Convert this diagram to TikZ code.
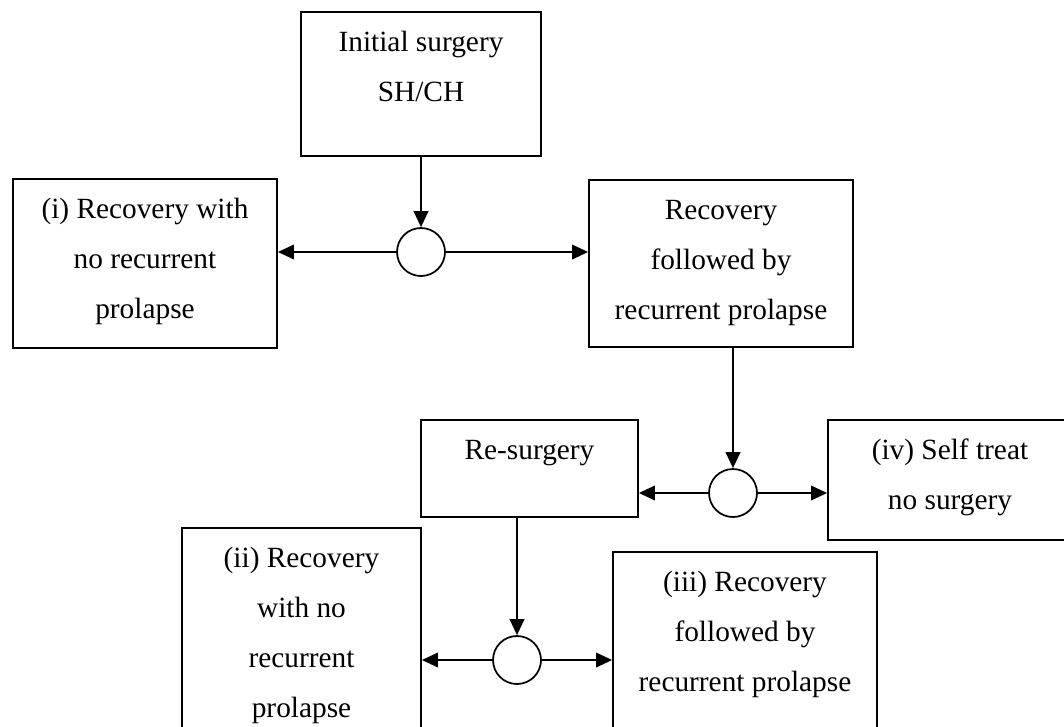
\documentclass[tikz,border=0pt]{standalone}
\usepackage{fontspec}
\setmainfont{Liberation Serif}
\usetikzlibrary{arrows.meta}
\newcommand{\boxtext}[3]{\parbox[c][\dimexpr #2pt*3/4-6pt\relax][t]{\dimexpr #1pt*3/4-6pt\relax}{\centering\strut #3}}
\tikzset{
  stepbox/.style={draw,line width=1.4pt,inner sep=3pt},
  chance/.style={draw,circle,line width=1.3pt,inner sep=0pt,minimum size=36pt},
  flow/.style={line width=1.2pt,-{Triangle[length=12pt,width=11pt]}}
}
\begin{document}
\begin{tikzpicture}[x=0.75pt,y=-0.75pt,font=\fontsize{22}{37.5}\selectfont]
\useasboundingbox (0,0) rectangle (1064,726);
\clip (0,0) rectangle (1064,726);
\path
(421,84) node[stepbox] (init) {\boxtext{240}{144}{Initial surgery\\SH/CH}}
(145,263.5) node[stepbox] (noprol) {\boxtext{264}{169}{(i) Recovery with\\no recurrent\\prolapse}}
(721,263.5) node[stepbox] (recur) {\boxtext{264}{167}{Recovery\\followed by\\recurrent prolapse}}
(529.5,468.5) node[stepbox] (resurg) {\boxtext{217}{97}{Re-surgery}}
(950,480) node[stepbox] (selftr) {\boxtext{244}{120}{(iv) Self treat\\no surgery}}
(301.5,636.5) node[stepbox] (noprolB) {\boxtext{239}{217}{(ii) Recovery\\with no\\recurrent\\prolapse}}
(745,648.5) node[stepbox] (recurB) {\boxtext{264}{193}{(iii) Recovery\\followed by\\recurrent prolapse}}
(421,252) node[chance] (c1) {}
(733,493) node[chance] (c2) {}
(517,660) node[chance] (c3) {};
% first split
\draw[flow] (init.south -| c1.north) -- (c1.north);
\draw[flow] (c1.west) -- (c1.west -| noprol.east);
\draw[flow] (c1.east) -- (c1.east -| recur.west);
% after recurrence
\draw[flow] (recur.south -| c2.north) -- (c2.north);
\draw[flow] (c2.west) -- (c2.west -| resurg.east);
\draw[flow] (c2.east) -- (c2.east -| selftr.west);
% after re-surgery
\draw[flow] (resurg.south -| c3.north) -- (c3.north);
\draw[flow] (c3.west) -- (c3.west -| noprolB.east);
\draw[flow] (c3.east) -- (c3.east -| recurB.west);
\end{tikzpicture}
\end{document}
